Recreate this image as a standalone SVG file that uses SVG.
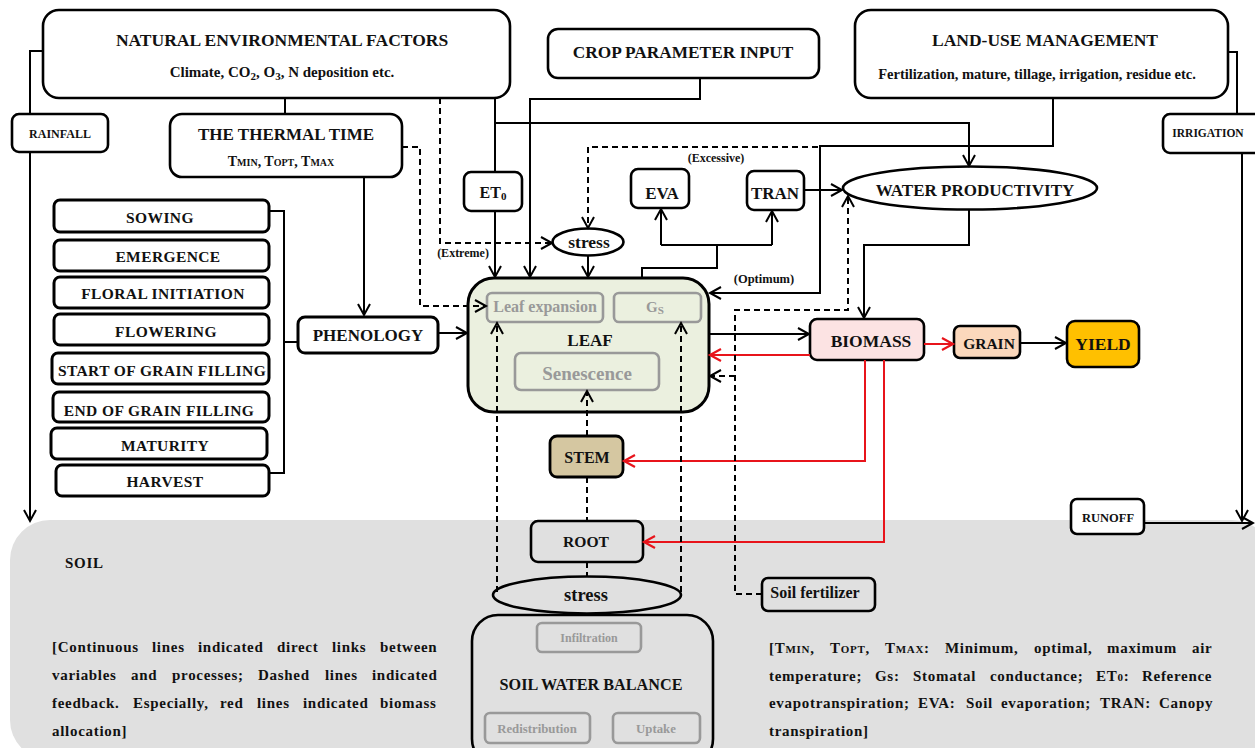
<svg xmlns="http://www.w3.org/2000/svg" width="1255" height="748" viewBox="0 0 1255 748">
<style>
.t{font-family:"Liberation Serif","Times New Roman",serif;font-weight:bold;fill:#111;text-anchor:middle}
.l{font-family:"Liberation Serif","Times New Roman",serif;font-weight:bold;fill:#111;font-size:15px;letter-spacing:0.7px}
.st{letter-spacing:0.4px}
.box{fill:#fff;stroke:#000;stroke-width:2.6}
.sbox{fill:#fff;stroke:#000;stroke-width:3}
.gbox{fill:#E0E0E0;stroke:#000;stroke-width:2.6}
.inner{fill:none;stroke:#999;stroke-width:2.6}
.gt{fill:#999}
.ln{fill:none;stroke:#000;stroke-width:2}
.ar{marker-end:url(#a)}
.d{stroke-dasharray:6,4}
.red{fill:none;stroke:#E8141B;stroke-width:2;marker-end:url(#r)}
</style>
<defs>
<marker id="a" markerUnits="userSpaceOnUse" markerWidth="14" markerHeight="14" refX="11" refY="6" orient="auto" overflow="visible"><path d="M0,0 L11,6 L0,12" fill="none" stroke="#000" stroke-width="2" stroke-dasharray="none"/></marker>
<marker id="r" markerUnits="userSpaceOnUse" markerWidth="14" markerHeight="14" refX="11" refY="6" orient="auto" overflow="visible"><path d="M0,0 L11,6 L0,12" fill="none" stroke="#E8141B" stroke-width="2.2"/></marker>
</defs>
<rect width="1255" height="748" fill="#fff"/>
<g id="soil">
<rect x="10" y="520" width="1262" height="240" rx="40" fill="#E0E0E0"/>
<text class="l" x="65" y="568">SOIL</text>
<text class="l">
<tspan x="52" y="652">[Continuous</tspan><tspan x="152" y="652">lines</tspan><tspan x="198" y="652">indicated</tspan><tspan x="277" y="652">direct</tspan><tspan x="332" y="652">links</tspan><tspan x="380" y="652">between</tspan>
<tspan x="52" y="680">variables</tspan><tspan x="131" y="680">and</tspan><tspan x="172" y="680">processes;</tspan><tspan x="258" y="680">Dashed</tspan><tspan x="325" y="680">lines</tspan><tspan x="372" y="680">indicated</tspan>
<tspan x="52" y="708">feedback.</tspan><tspan x="133" y="708">Especially,</tspan><tspan x="220" y="708">red</tspan><tspan x="257" y="708">lines</tspan><tspan x="303" y="708">indicated</tspan><tspan x="380" y="708">biomass</tspan>
<tspan x="52" y="736">allocation]</tspan>
</text>
<text class="l">
<tspan x="769" y="653">[T<tspan font-size="11">MIN</tspan>,</tspan><tspan x="830" y="653">T<tspan font-size="11">OPT</tspan>,</tspan><tspan x="885" y="653">T<tspan font-size="11">MAX</tspan>:</tspan><tspan x="945" y="653">Minimum,</tspan><tspan x="1034" y="653">optimal,</tspan><tspan x="1107" y="653">maximum</tspan><tspan x="1192" y="653">air</tspan>
<tspan x="769" y="681">temperature;</tspan><tspan x="875" y="681">Gs:</tspan><tspan x="913" y="681">Stomatal</tspan><tspan x="990" y="681">conductance;</tspan><tspan x="1096" y="681">ET<tspan font-size="11">0</tspan>:</tspan><tspan x="1142" y="681">Reference</tspan>
<tspan x="769" y="708">evapotranspiration;</tspan><tspan x="918" y="708">EVA:</tspan><tspan x="966" y="708">Soil</tspan><tspan x="1001" y="708">evaporation;</tspan><tspan x="1100" y="708">TRAN:</tspan><tspan x="1159" y="708">Canopy</tspan>
<tspan x="769" y="736">transpiration]</tspan>
</text>
</g>
<g id="nef">
<rect class="box" x="43" y="10" width="467" height="88" rx="16"/>
<text class="t" x="282" y="46" font-size="17.5">NATURAL ENVIRONMENTAL FACTORS</text>
<text class="t" x="282" y="77" font-size="15">Climate, CO<tspan font-size="11" dy="3">2</tspan><tspan dy="-3">, O</tspan><tspan font-size="11" dy="3">3</tspan><tspan dy="-3">, N deposition etc.</tspan></text>
</g>
<g id="rainfall">
<rect class="box" x="12" y="114" width="96" height="38" rx="7"/>
<text class="t" x="60" y="138" font-size="12">RAINFALL</text>
</g>
<g id="thermal">
<rect class="box" x="170" y="114" width="232" height="63" rx="12"/>
<text class="t" x="286" y="140" font-size="17">THE THERMAL TIME</text>
<text class="t" x="281" y="166" font-size="14">T<tspan font-size="10">MIN</tspan>, T<tspan font-size="10">OPT</tspan>, T<tspan font-size="10">MAX</tspan></text>
</g>
<g id="crop">
<rect class="box" x="548" y="29" width="271" height="49" rx="10"/>
<text class="t" x="683" y="58" font-size="17.3">CROP PARAMETER INPUT</text>
</g>
<g id="landuse">
<rect class="box" x="855" y="10" width="373" height="88" rx="16"/>
<text class="t" x="1045" y="46" font-size="17.5">LAND-USE MANAGEMENT</text>
<text class="t" x="1037" y="79" font-size="14.5">Fertilization, mature, tillage, irrigation, residue etc.</text>
</g>
<g id="irrigation">
<rect class="box" x="1163" y="114" width="100" height="39" rx="7"/>
<text class="t" x="1208" y="137" font-size="11.5">IRRIGATION</text>
</g>
<g id="et0">
<rect class="box" x="464" y="172" width="58" height="39" rx="7"/>
<text class="t" x="493" y="198" font-size="16">ET<tspan font-size="11" dy="2">0</tspan></text>
</g>
<g id="eva">
<rect class="box" x="631" y="169" width="58" height="39" rx="7"/>
<text class="t" x="662" y="199" font-size="17">EVA</text>
</g>
<g id="tran">
<rect class="box" x="747" y="171" width="57" height="39" rx="7"/>
<text class="t" x="775" y="199" font-size="17">TRAN</text>
</g>
<g id="wp">
<ellipse cx="970" cy="188" rx="127" ry="21.5" fill="#fff" stroke="#000" stroke-width="2.6"/>
<text class="t" x="975" y="196" font-size="17">WATER PRODUCTIVITY</text>
</g>
<g id="stress-top">
<ellipse cx="588" cy="242" rx="35.5" ry="13.5" fill="#fff" stroke="#000" stroke-width="2.6"/>
<text class="t" x="589" y="248" font-size="17.5">stress</text>
</g>
<g id="labels">
<text class="t" x="716" y="162" font-size="12">(Excessive)</text>
<text class="t" x="463" y="257" font-size="12">(Extreme)</text>
<text class="t" x="764" y="283" font-size="12.5">(Optimum)</text>
</g>
<g id="stages">
<rect class="sbox" x="54" y="200" width="215" height="32" rx="6"/>
<text class="t st" x="160" y="223" font-size="15.5">SOWING</text>
<rect class="sbox" x="54" y="240" width="215" height="31" rx="6"/>
<text class="t st" x="168" y="262" font-size="15.5">EMERGENCE</text>
<rect class="sbox" x="54" y="277" width="215" height="31" rx="6"/>
<text class="t st" x="163" y="299" font-size="15.5">FLORAL INITIATION</text>
<rect class="sbox" x="54" y="314" width="215" height="31" rx="6"/>
<text class="t st" x="166" y="337" font-size="15.5">FLOWERING</text>
<rect class="sbox" x="52" y="353" width="217" height="31" rx="6"/>
<text class="t st" x="162" y="376" font-size="15.5">START OF GRAIN FILLING</text>
<rect class="sbox" x="53" y="392" width="216" height="30" rx="6"/>
<text class="t st" x="159" y="416" font-size="15.5">END OF GRAIN FILLING</text>
<rect class="sbox" x="51" y="428" width="216" height="31" rx="6"/>
<text class="t st" x="165" y="451" font-size="15.5">MATURITY</text>
<rect class="sbox" x="56" y="465" width="213" height="31" rx="6"/>
<text class="t st" x="165" y="487" font-size="15.5">HARVEST</text>
</g>
<g id="phenology">
<rect class="sbox" x="298" y="317" width="140" height="36" rx="7"/>
<text class="t" x="368" y="341" font-size="17">PHENOLOGY</text>
</g>
<g id="leaf">
<rect x="468" y="278" width="241" height="134" rx="26" fill="#EBF0DF" stroke="#000" stroke-width="3"/>
<rect class="inner" x="487" y="293" width="116" height="29" rx="5"/>
<text class="t gt" x="545" y="312" font-size="16">Leaf expansion</text>
<rect class="inner" x="614" y="293" width="87" height="29" rx="5"/>
<text class="t gt" x="655" y="312" font-size="15">G<tspan font-size="11" dy="2">S</tspan></text>
<text class="t" x="590" y="346" font-size="17">LEAF</text>
<rect class="inner" x="515" y="353" width="144" height="37" rx="6"/>
<text class="t gt" x="587" y="380" font-size="19">Senescence</text>
</g>
<g id="biomass">
<rect x="810" y="319" width="114" height="41" rx="7" fill="#FCE3E3" stroke="#000" stroke-width="2.6"/>
<text class="t" x="871" y="347" font-size="17.5">BIOMASS</text>
</g>
<g id="grain">
<rect x="954" y="326" width="66" height="32" rx="6" fill="#FBD8BC" stroke="#000" stroke-width="2.6"/>
<text class="t" x="989" y="349" font-size="15.5">GRAIN</text>
</g>
<g id="yield">
<rect x="1067" y="321" width="72" height="46" rx="8" fill="#FFC000" stroke="#000" stroke-width="2.6"/>
<text class="t" x="1103" y="350" font-size="17.5">YIELD</text>
</g>
<g id="runoff">
<rect class="box" x="1071" y="499" width="73" height="35" rx="6"/>
<text class="t" x="1108" y="522" font-size="12.5">RUNOFF</text>
</g>
<g id="stem">
<rect x="550" y="436" width="73" height="41" rx="7" fill="#D5C7A1" stroke="#000" stroke-width="2.8"/>
<text class="t" x="587" y="463" font-size="16">STEM</text>
</g>
<g id="root">
<rect class="gbox" x="531" y="521" width="112" height="41" rx="7"/>
<text class="t" x="586" y="547" font-size="15.6">ROOT</text>
</g>
<g id="stress-bottom">
<ellipse cx="587" cy="595" rx="94" ry="18.5" fill="#E0E0E0" stroke="#000" stroke-width="2.6"/>
<text class="t" x="586" y="601" font-size="18.5">stress</text>
</g>
<g id="swb">
<rect class="gbox" x="472" y="615" width="241" height="150" rx="26"/>
<rect class="inner" x="537" y="623" width="104" height="29" rx="5"/>
<text class="t gt" x="589" y="642" font-size="12">Infiltration</text>
<text class="t" x="591" y="690" font-size="16.2">SOIL WATER BALANCE</text>
<rect class="inner" x="485" y="713" width="105" height="30" rx="5"/>
<text class="t gt" x="537" y="733" font-size="12.8">Redistribution</text>
<rect class="inner" x="613" y="713" width="87" height="30" rx="5"/>
<text class="t gt" x="656" y="733" font-size="12.8">Uptake</text>
</g>
<g id="fertilizer">
<rect class="gbox" x="762" y="578" width="113" height="33" rx="6"/>
<text class="t" x="815" y="598" font-size="16">Soil fertilizer</text>
</g>
<g id="connectors">
<path class="ln" d="M43,51 H30 V114"/>
<path class="ln ar" d="M30,152 V521"/>
<path class="ln" d="M285,98 V114"/>
<path class="ln ar" d="M364,177 V315"/>
<path class="ln" d="M269,211 H284 V473 H269 M284,342 H298"/>
<path class="ln ar" d="M438,333 H467"/>
<path class="ln" d="M495,98 V172"/>
<path class="ln ar" d="M495,123 H969 V166"/>
<path class="ln ar" d="M495,211 V277"/>
<path class="ln ar" d="M700,78 V99 H530 V277"/>
<path class="ln ar" d="M1053,98 V146 H820 V293 H710"/>
<path class="ln ar" d="M588,256 V277"/>
<path class="ln" d="M642,278 V268 H717 V245 M661,245 H772"/>
<path class="ln ar" d="M661,245 V209"/>
<path class="ln ar" d="M772,245 V211"/>
<path class="ln ar" d="M804,190 H842"/>
<path class="ln ar" d="M969,210 V245 H864 V318"/>
<path class="ln ar" d="M709,334 H809"/>
<path class="ln ar" d="M1020,343 H1066"/>
<path class="ln" d="M1228,52 H1237 V114"/>
<path class="ln ar" d="M1242,153 V521"/>
<path class="ln ar" d="M1144,523 H1253"/>
<path class="red" d="M810,355 H710"/>
<path class="red" d="M924,344 H953"/>
<path class="red" d="M865,360 V461 H624"/>
<path class="red" d="M884,360 V542 H644"/>
<path class="ln d ar" d="M402,147 H420 V306 H486"/>
<path class="ln d ar" d="M440,98 V243 H552"/>
<path class="ln d ar" d="M818,147 H588 V228"/>
<path class="ln d ar" d="M762,594 H735 V310 H848 V196"/>
<path class="ln d ar" d="M735,376 H710"/>
<path class="ln d ar" d="M587,436 V391"/>
<path class="ln d" d="M587,477 V521 M587,562 V577"/>
<path class="ln d ar" d="M497,592 V323"/>
<path class="ln d ar" d="M681,592 V323"/>
</g>
</svg>
